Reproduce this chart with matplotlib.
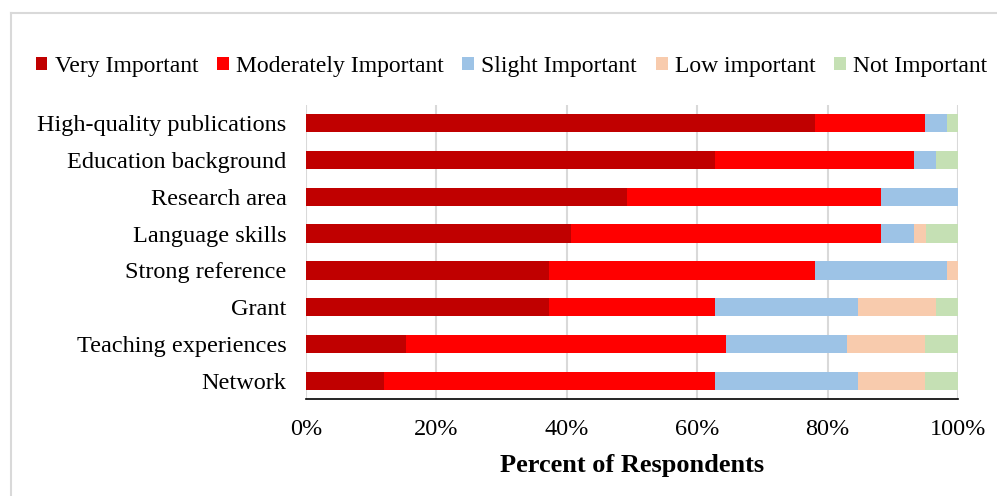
import matplotlib.pyplot as plt
from matplotlib.lines import Line2D
from matplotlib.ticker import PercentFormatter

# factors, listed top to bottom
factors = ["High-quality publications", "Education background", "Research area",
           "Language skills", "Strong reference", "Grant",
           "Teaching experiences", "Network"]

# percent of respondents per level
very_important = [78.0, 62.7, 49.2, 40.7, 37.3, 37.3, 15.3, 11.9]
moderately_important = [16.9, 30.5, 39.0, 47.5, 40.7, 25.4, 49.1, 50.8]
slight_important = [3.4, 3.4, 11.8, 5.1, 20.3, 22.0, 18.6, 22.0]
low_important = [0.0, 0.0, 0.0, 1.7, 1.7, 11.9, 11.9, 10.2]
not_important = [1.7, 3.4, 0.0, 5.0, 0.0, 3.4, 5.1, 5.1]

levels = ["Very Important", "Moderately Important", "Slight Important",
          "Low important", "Not Important"]
colors = ["#C00000", "#FF0000", "#9DC3E6", "#F8CBAD", "#C5E0B4"]

plt.rcParams["font.family"] = ["Liberation Serif", "DejaVu Serif"]

fig = plt.figure(figsize=(9.97, 4.96), dpi=100)
ax = fig.add_axes([0.307, 0.195, 0.654, 0.594])

ypos = list(range(len(factors)))[::-1]
left = [0.0] * len(factors)
for name, vals, c in zip(levels,
                         [very_important, moderately_important, slight_important,
                          low_important, not_important], colors):
    ax.barh(ypos, vals, left=left, height=0.5, color=c, label=name)
    left = [a + b for a, b in zip(left, vals)]

ax.set_xlim(0, 100)
ax.set_ylim(-0.5, len(factors) - 0.5)
ax.set_yticks(ypos)
ax.set_yticklabels(factors, fontsize=17.5)
ax.set_xticks([0, 20, 40, 60, 80, 100])
ax.xaxis.set_major_formatter(PercentFormatter(decimals=0))
ax.tick_params(axis="x", labelsize=17.5, length=0, pad=14)
ax.tick_params(axis="y", length=0, pad=14)
ax.grid(axis="x", color="#D9D9D9", linewidth=1.5)
ax.set_axisbelow(True)
for s in ["top", "right", "left"]:
    ax.spines[s].set_visible(False)
ax.spines["bottom"].set_color("black")
ax.spines["bottom"].set_linewidth(1.2)
ax.set_xlabel("Percent of Respondents", fontsize=19, fontweight="bold", labelpad=10)

fig.legend(loc="center", bbox_to_anchor=(0.513, 0.866), ncol=5, frameon=False,
           fontsize=17, handlelength=0.5, handleheight=0.5, handletextpad=0.3,
           columnspacing=0.8)

# chart border (only left and top visible in the crop)
fig.add_artist(Line2D([0.011, 0.011], [0, 0.974], color="#D9D9D9", linewidth=1.5))
fig.add_artist(Line2D([0.011, 1.0], [0.974, 0.974], color="#D9D9D9", linewidth=1.5))

fig.savefig("out.png", dpi=100)
